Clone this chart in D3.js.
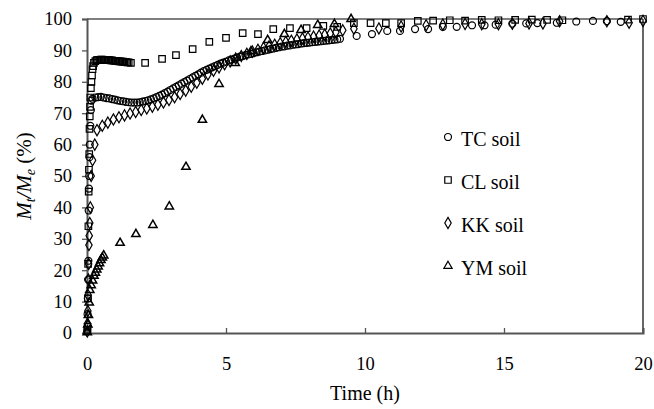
<!DOCTYPE html>
<html><head><meta charset="utf-8">
<script src="https://cdn.jsdelivr.net/npm/d3@7/dist/d3.min.js"></script>
<style>body{margin:0;background:#fff}svg{display:block}</style>
</head><body><svg id="c" width="654" height="409" style="font-family:'Liberation Serif','Times New Roman',Times,'DejaVu Serif',serif"></svg>
<script>
// ---- data (time in h, Mt/Me in %) ----
const tcTime = [0.01,0.02,0.03,0.04,0.05,0.06,0.07,0.08,0.09,0.1,0.12,0.14,0.16,
  0.2,0.3,0.4,0.5,0.6,0.7,0.8,0.9,1.0,1.1,1.2,1.3,1.4,1.5,1.6,1.7,1.8,1.9,2.0,2.1,2.2,2.3,2.4,2.5,2.6,2.7,2.8,2.9,3.0,
  3.1,3.2,3.3,3.4,3.5,3.6,3.7,3.8,3.9,4.0,4.1,4.2,4.3,4.4,4.5,4.6,4.7,4.8,4.9,5.0,5.1,5.2,5.3,5.4,5.5,5.6,5.7,5.8,5.9,6.0,
  6.1,6.2,6.3,6.4,6.5,6.6,6.7,6.8,6.9,7.0,7.1,7.2,7.3,7.4,7.5,7.6,7.7,7.8,7.9,8.0,8.1,8.2,8.3,8.4,8.5,8.6,8.7,8.8,8.9,9.0,9.1,
  9.7,10.25,10.8,11.26,11.8,12.27,12.8,13.3,13.85,14.3,14.7,15.3,15.8,16.2,16.9,17.6,18.2,18.7,19.2];
const tcValue = [0.5,6,11,17,23,39,46,50,56,60,66,71,74,
  74.6,75,75.1,75.2,75,74.8,74.7,74.5,74.3,74.1,73.9,73.8,73.6,73.5,73.4,73.4,73.4,73.5,73.7,73.9,74.1,74.4,74.7,75.1,75.5,75.9,76.4,76.9,77.4,
  77.9,78.4,78.9,79.4,79.9,80.4,80.9,81.4,81.9,82.4,82.9,83.4,83.8,84.2,84.6,85,85.4,85.8,86.1,86.4,86.8,87.1,87.4,87.7,88,88.2,88.5,88.7,88.9,89.1,
  89.4,89.6,89.8,90,90.2,90.4,90.6,90.8,91,91.2,91.3,91.5,91.6,91.8,91.9,92,92.2,92.3,92.4,92.5,92.6,92.7,92.8,92.9,93,93.1,93.2,93.3,93.4,93.5,93.7,
  94.6,95.2,96.2,96.2,96.8,96.8,97.5,97.5,98,98,98.2,98.5,98.6,98.7,98.8,99.2,99.4,99.3,99.1];

const clTime = [0.01,0.02,0.03,0.04,0.05,0.06,0.07,0.08,0.09,0.1,0.11,0.12,0.14,0.16,0.18,0.2,0.22,0.25,
  0.3,0.35,0.4,0.45,0.5,0.55,0.6,0.65,0.7,0.75,0.8,0.85,0.9,0.95,1.0,1.05,1.1,1.15,1.2,1.25,1.3,1.35,1.4,1.45,1.5,
  1.58,2.09,2.7,3.2,3.8,4.4,5.0,5.6,6.15,6.7,7.3,7.9,8.5,9.0,9.6,10.2,10.75,11.3,11.9,12.45,13.05,13.6,14.2,14.8,15.4,16.0,16.55,17.1,19.46,20];
const clValue = [1,2,11,22,34,45,52,57,65,69,72,75,78,80,82,84,85,86,
  86.6,86.9,87,87,87.1,87.1,87,87,87,86.9,86.9,86.8,86.8,86.7,86.7,86.6,86.6,86.5,86.5,86.4,86.4,86.3,86.3,86.2,86.2,
  86,86,87.3,88.5,90.4,92.7,94,95.5,95.2,96.8,97.1,97.1,97.8,97.5,98.7,98.7,98.7,98.7,99.4,99.5,99.6,99.5,99.7,99.6,99.7,99.8,99.7,99.6,99.8,100];

const kkTime = [0.01,0.02,0.03,0.04,0.05,0.06,0.07,0.08,0.1,0.12,0.15,0.2,0.28,
  0.36,0.55,0.75,0.95,1.15,1.35,1.55,1.75,1.95,2.15,2.35,2.55,2.75,2.95,3.15,3.35,3.55,3.75,3.95,4.15,4.35,4.55,4.75,4.95,
  5.15,5.35,5.55,5.75,5.95,6.15,6.35,6.55,6.75,6.95,7.15,7.35,7.55,7.75,7.95,8.15,8.35,8.55,8.75,8.95,9.2,
  9.6,10.5,11.3,12.2,12.8,13.6,14.2,14.8,15.3,15.9,16.4,17.0,18.7,19.5,20];
const kkValue = [0.5,3,7,12,17,22,28,31,35,40,50,55,60,
  64.6,66,67,68,68.7,69.3,69.9,70.4,71,71.5,72.1,72.7,73.4,74.2,75.1,76.1,77.2,78.4,79.7,81,82.3,83.5,84.6,85.6,
  86.5,87.4,88.2,88.9,89.6,90.2,90.8,91.3,91.8,92.3,92.7,93.1,93.5,93.8,94.1,94.4,94.7,95,95.4,95.8,96.4,
  96.9,97,97.6,98,98.2,98.4,98.3,98.3,98.5,98.6,98.6,99.3,99.3,98.8,99.4];

const ymTime = [0.01,0.03,0.05,0.08,0.1,0.15,0.2,0.25,0.3,0.35,0.4,0.45,0.5,0.55,0.6,
  1.19,1.76,2.37,2.96,3.56,4.15,4.75,5.33,5.9,6.5,7.1,7.7,8.3,8.9,9.5];
const ymValue = [0.5,3,6,10,14,15.5,17,18.5,19.5,20.5,21.5,22.5,23.5,24.3,25,
  29,31.8,34.7,40.6,53.2,68.2,79.6,86.3,90,93.6,95.5,96.8,98.4,98.7,100.3];

const xTicks = [0,5,10,15,20];
const yTicks = [0,10,20,30,40,50,60,70,80,90,100];
const seriesNames = ["TC soil","CL soil","KK soil","YM soil"];
const seriesSymbols = ["circle","square","diamond","triangle"];

// ---- drawing ----
const FONT = "'Liberation Serif','Times New Roman',Times,'DejaVu Serif',serif";
const svg = d3.select("#c");
const L = 87, R = 643, T = 19, B = 333;
const x = d3.scaleLinear().domain([0,20]).range([L,R]);
const y = d3.scaleLinear().domain([0,100]).range([B,T]);

function sym(name){
  const s = {circle:d3.symbolCircle, square:d3.symbolSquare, diamond:d3.symbolDiamond, triangle:d3.symbolTriangle}[name];
  const size = {circle:38, square:42, diamond:36, triangle:30}[name];
  return d3.symbol().type(s).size(size)();
}

// frame
svg.append("line").attr("x1",L).attr("x2",R).attr("y1",T).attr("y2",T).attr("stroke","#555").attr("stroke-width",1.5);
svg.append("line").attr("x1",R).attr("x2",R).attr("y1",T).attr("y2",B).attr("stroke","#000").attr("stroke-width",1.2);

// axes
const yAxis = svg.append("g").attr("transform",`translate(${L},0)`)
  .call(d3.axisLeft(y).tickValues(yTicks).tickSize(5).tickPadding(10));
const xAxis = svg.append("g").attr("transform",`translate(0,${B})`)
  .call(d3.axisBottom(x).tickValues(xTicks).tickSize(-5).tickPadding(24));
[yAxis,xAxis].forEach(g=>{
  g.attr("font-family",FONT);
  g.select(".domain").attr("stroke","#555").attr("stroke-width",2);
  g.selectAll(".tick line").attr("stroke","#555").attr("stroke-width",1.3);
  g.selectAll(".tick text").attr("font-size",18.5).style("font-family",FONT).attr("fill","#000");
});

// series
const series = [[tcTime,tcValue],[clTime,clValue],[kkTime,kkValue],[ymTime,ymValue]];
series.forEach(([tt,vv],i)=>{
  const pts = tt.map((t,j)=>[t,vv[j]]);
  svg.append("g").selectAll("path").data(pts).join("path")
    .attr("d",sym(seriesSymbols[i]))
    .attr("transform",d=>`translate(${x(d[0])},${y(d[1]) + (seriesSymbols[i]==="triangle"?1:0)})`)
    .attr("fill","none").attr("stroke","#000").attr("stroke-width",seriesSymbols[i]==="triangle"?1.5:1.2);
});

// legend
const lg = svg.append("g");
seriesNames.forEach((n,i)=>{
  const cy = 137 + i*43;
  lg.append("path").attr("d",sym(seriesSymbols[i])).attr("transform",`translate(448,${cy})`)
    .attr("fill","none").attr("stroke","#000").attr("stroke-width",1.2);
  lg.append("text").attr("x",461).attr("y",cy+9).attr("font-size",20).style("font-family",FONT).text(n);
});

// axis titles
svg.append("text").attr("x",365).attr("y",400).attr("text-anchor","middle").attr("font-size",20).style("font-family",FONT).text("Time (h)");
const yl = svg.append("text").attr("transform","translate(31,176) rotate(-90)").attr("text-anchor","middle").attr("font-size",21).style("font-family",FONT);
yl.append("tspan").attr("font-style","italic").text("M");
yl.append("tspan").attr("font-style","italic").attr("font-size",14).attr("dy",4).text("t");
yl.append("tspan").attr("font-style","italic").attr("dy",-4).text("/M");
yl.append("tspan").attr("font-style","italic").attr("font-size",14).attr("dy",4).text("e");
yl.append("tspan").attr("dy",-4).text(" (%)");
</script></body></html>
